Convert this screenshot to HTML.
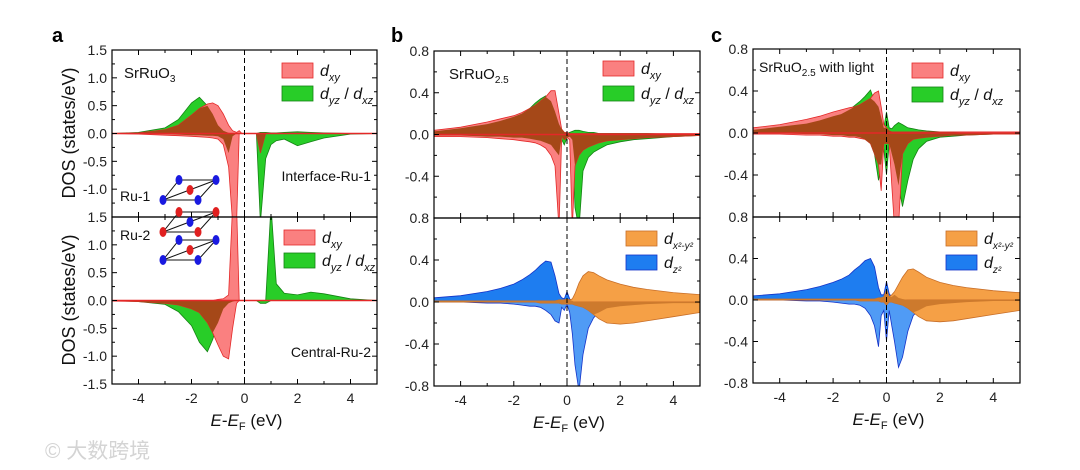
<!DOCTYPE html>
<html><head><meta charset="utf-8">
<style>
body{margin:0;background:#fff;}
svg{display:block;font-family:"Liberation Sans","Noto Sans CJK SC",sans-serif;}
</style></head>
<body>
<svg id="fig" width="1080" height="470" viewBox="0 0 1080 470">
  <text x="52" y="42" font-size="20" font-weight="bold">a</text>
  <text x="391" y="42" font-size="20" font-weight="bold">b</text>
  <text x="711" y="42" font-size="20" font-weight="bold">c</text>
  <text x="45" y="458" font-size="21" fill="#d4d4d4">© 大数跨境</text>
</svg>
<script>
const E = [-5,-4,-3,-2.5,-2,-1.7,-1.4,-1.2,-1,-0.8,-0.6,-0.45,-0.3,-0.2,-0.1,0,0.1,0.2,0.3,0.45,0.6,0.8,1,1.2,1.5,2,2.5,3,4,5];
// panel a upper (Interface-Ru-1)
const aUpXY=[0,0.01,0.07,0.15,0.33,0.45,0.53,0.55,0.5,0.35,0.15,0.05,0.02,0.05,0,0,0,0,0,0,0,0,0,0,0,0,0,0,0,0];
const aDnXY=[0,-0.01,-0.03,-0.04,-0.05,-0.06,-0.07,-0.08,-0.1,-0.2,-0.6,-1.6,-1.6,0,0,0,0,0,0,0,-0.35,0,0,0,0,0,0,0,0,0];
const aUpYZ=[0,0.02,0.1,0.25,0.55,0.65,0.5,0.35,0.15,0.05,0.01,0,0,0,0,0,0,0,0,0,0.02,0.02,0.01,0.01,0.02,0.03,0.02,0.01,0,0];
const aDnYZ=[0,0,-0.01,-0.02,-0.03,-0.03,-0.04,-0.04,-0.05,-0.1,-0.35,-0.05,0,0,0,0,0,0,0,0,-1.6,-0.45,-0.2,-0.13,-0.1,-0.22,-0.15,-0.08,-0.01,0];
// panel a lower (Central-Ru-2)
const a2UpXY=[0,0,0,0,0,0,0,0,0.02,0.03,0.1,1.7,1.7,0,0,0,0,0,0,0,0,0,0,0,0,0,0,0,0,0];
const a2DnXY=[-0.01,-0.02,-0.05,-0.08,-0.15,-0.22,-0.4,-0.58,-0.8,-1.0,-1.05,-0.5,-0.05,0,0,0,0,0,0,0,0,0,0,0,0,0,0,0,0,0];
const a2UpYZ=[0,0,0,0,0,0,0,0,0,0,0,0,0,0,0,0,0,0,0,0,0,0,1.7,0.3,0.13,0.1,0.15,0.12,0.03,0];
const a2DnYZ=[0,-0.02,-0.07,-0.2,-0.45,-0.75,-0.92,-0.7,-0.4,-0.15,-0.05,-0.02,0,0,0,0,0,0,0,0,-0.05,-0.05,0,0,0,0,0,0,0,0];
// panel b upper
const bUpXY=[0.04,0.07,0.12,0.15,0.18,0.21,0.25,0.28,0.32,0.36,0.42,0.42,0.2,0.05,0.02,0.02,0.01,0.01,0.01,0.01,0.01,0.01,0.01,0.01,0.01,0.01,0.01,0.01,0.01,0.01];
const bDnXY=[-0.02,-0.02,-0.03,-0.04,-0.05,-0.06,-0.07,-0.08,-0.1,-0.13,-0.2,-0.3,-0.9,-0.02,-0.05,-0.03,-0.05,-0.9,-0.3,-0.2,-0.15,-0.12,-0.1,-0.08,-0.06,-0.05,-0.04,-0.03,-0.02,-0.01];
const bUpYZ=[0.03,0.06,0.1,0.13,0.17,0.2,0.25,0.3,0.34,0.37,0.32,0.22,0.1,0.05,0.02,0.01,0.02,0.03,0.04,0.04,0.03,0.02,0.02,0.01,0.01,0.01,0.01,0.01,0,0];
const bDnYZ=[-0.01,-0.01,-0.02,-0.02,-0.03,-0.03,-0.04,-0.05,-0.06,-0.08,-0.1,-0.15,-0.2,-0.05,-0.1,-0.03,-0.02,-0.05,-0.7,-0.9,-0.35,-0.22,-0.17,-0.14,-0.1,-0.07,-0.05,-0.04,-0.02,-0.01];
// panel b lower
const bUpZ2=[0.04,0.06,0.1,0.13,0.17,0.21,0.26,0.3,0.35,0.39,0.38,0.25,0.08,0.04,0.03,0.1,0.03,0.01,0,0,0,0,0,0,0,0,0,0,0,0];
const bDnZ2=[0,0,-0.01,-0.01,-0.02,-0.03,-0.04,-0.04,-0.05,-0.08,-0.12,-0.18,-0.2,-0.05,-0.08,-0.02,-0.1,-0.3,-0.6,-0.85,-0.5,-0.25,-0.15,-0.1,-0.06,-0.04,-0.03,-0.02,-0.01,-0.01];
const bUpX2=[0.01,0.01,0.01,0.01,0.01,0.01,0.01,0.01,0.01,0.01,0.01,0.01,0.02,0.02,0.02,0.03,0.02,0.03,0.08,0.18,0.25,0.29,0.28,0.25,0.21,0.17,0.14,0.12,0.09,0.07];
const bDnX2=[0,0,0,0,0,0,0,0,-0.01,-0.01,-0.01,-0.01,-0.01,-0.02,-0.02,-0.02,-0.02,-0.02,-0.03,-0.04,-0.05,-0.08,-0.12,-0.16,-0.2,-0.21,-0.2,-0.18,-0.14,-0.1];
// panel c upper
const cUpXY=[0.05,0.08,0.13,0.16,0.2,0.22,0.24,0.25,0.27,0.3,0.33,0.38,0.4,0.25,0.08,0.05,0.02,0.01,0.01,0.01,0.01,0.01,0.01,0.01,0.01,0.01,0.01,0.01,0.01,0.01];
const cDnXY=[-0.01,-0.01,-0.02,-0.02,-0.03,-0.03,-0.04,-0.04,-0.05,-0.06,-0.1,-0.2,-0.3,-0.55,-0.1,-0.1,-0.1,-0.5,-0.9,-0.9,-0.2,-0.1,-0.06,-0.05,-0.04,-0.03,-0.02,-0.02,-0.01,-0.01];
const cUpYZ=[0.03,0.06,0.09,0.12,0.16,0.18,0.22,0.26,0.3,0.35,0.41,0.3,0.25,0.15,0.05,0.2,0.05,0.04,0.07,0.1,0.08,0.05,0.04,0.03,0.02,0.01,0.01,0,0,0];
const cDnYZ=[0,0,-0.01,-0.01,-0.02,-0.02,-0.03,-0.03,-0.04,-0.06,-0.1,-0.2,-0.45,-0.3,-0.15,-0.4,-0.1,-0.2,-0.3,-0.5,-0.7,-0.45,-0.25,-0.15,-0.08,-0.04,-0.03,-0.02,-0.01,-0.01];
// panel c lower
const cUpZ2=[0.04,0.06,0.1,0.13,0.17,0.2,0.24,0.29,0.33,0.38,0.4,0.32,0.12,0.05,0.05,0.18,0.06,0.03,0.05,0.02,0.01,0,0,0,0,0,0,0,0,0];
const cDnZ2=[0,0,-0.01,-0.01,-0.02,-0.03,-0.04,-0.04,-0.05,-0.08,-0.15,-0.25,-0.45,-0.15,-0.1,-0.4,-0.1,-0.25,-0.4,-0.65,-0.55,-0.3,-0.15,-0.1,-0.06,-0.04,-0.03,-0.02,-0.01,-0.01];
const cUpX2=[0.01,0.01,0.01,0.01,0.01,0.01,0.01,0.01,0.01,0.01,0.01,0.01,0.02,0.02,0.03,0.1,0.03,0.05,0.08,0.15,0.22,0.29,0.3,0.27,0.22,0.17,0.14,0.12,0.09,0.07];
const cDnX2=[0,0,0,0,0,0,0,0,-0.01,-0.01,-0.01,-0.01,-0.01,-0.02,-0.02,-0.05,-0.02,-0.02,-0.03,-0.04,-0.05,-0.08,-0.12,-0.16,-0.2,-0.21,-0.2,-0.18,-0.14,-0.1];
const xTicks=[-4,-2,0,2,4];
const aTicksUp=["1.5","1.0","0.5","0.0","-0.5","-1.0","1.5"];
const aTicksLo=["1.0","0.5","0.0","-0.5","-1.0","-1.5"];
const bTicksUp=["0.8","0.4","0.0","-0.4","0.8"];
const bTicksLo=["0.4","0.0","-0.4","-0.8"];

const NS="http://www.w3.org/2000/svg";
const svg=document.getElementById('fig');
function mk(tag,attrs,parent){const e=document.createElementNS(NS,tag);for(const k in attrs)e.setAttribute(k,attrs[k]);(parent||svg).appendChild(e);return e;}
const C={pink:"rgb(250,128,128)",pinkS:"rgb(228,40,40)",green:"rgb(40,205,40)",greenS:"rgb(20,130,20)",brown:"rgb(165,72,24)",
 blue:"rgb(30,125,240)",blueS:"rgb(20,50,200)",orange:"rgb(245,160,70)",orangeS:"rgb(200,110,40)",ov2:"rgb(205,122,45)"};
let clipId=0;
function overlap(a,b){return a.map((v,i)=>{const w=b[i];if(v>0&&w>0)return Math.min(v,w);if(v<0&&w<0)return Math.max(v,w);return 0;});}
function sub(o){
  const sx=e=>o.x0+(e+5)/10*(o.x1-o.x0);
  const sy=v=>o.yT+(o.vmax-v)/(2*o.vmax)*(o.yB-o.yT);
  const g=mk('g',{});
  
  
  const cid='cl'+(clipId++);
  const cp=mk('clipPath',{id:cid},g);mk('rect',{x:o.x0,y:o.yT,width:o.x1-o.x0,height:o.yB-o.yT},cp);
  const pg=mk('g',{'clip-path':'url(#'+cid+')'},g);
  function area(vals,fill,stroke,name){
    let d='M'+sx(E[0])+','+sy(0);
    E.forEach((e,i)=>{d+=' L'+sx(e).toFixed(1)+','+sy(vals[i]).toFixed(1);});
    d+=' L'+sx(E[E.length-1])+','+sy(0)+' Z';
    const p=mk('path',{d:d,fill:fill,stroke:stroke||'none','stroke-width':0.8},pg);
    
    
  }
  o.series.forEach(s=>area(s.v,s.fill,s.stroke,s.name));
  o.over.forEach(s=>area(overlap(s.a,s.b),s.fill,'none',s.name));
  if(o.zeroLine){const l=mk('line',{x1:o.x0,x2:o.x1,y1:sy(0),y2:sy(0),stroke:C.pinkS,'stroke-width':1.6},pg);
    
    }
  const fl=mk('line',{x1:sx(0),x2:sx(0),y1:o.yT,y2:o.yB,stroke:'#000','stroke-width':1,'stroke-dasharray':'5,3'},g);
  
  
  mk('rect',{x:o.x0,y:o.yT,width:o.x1-o.x0,height:o.yB-o.yT,fill:'none',stroke:'#000','stroke-width':1.2},g);
  for(let e=-5;e<=5;e++){const L=(e%2===0)?5:3;
    mk('line',{x1:sx(e),x2:sx(e),y1:o.yT,y2:o.yT+L,stroke:'#000'},g);
    mk('line',{x1:sx(e),x2:sx(e),y1:o.yB,y2:o.yB-L,stroke:'#000'},g);}
  o.tickVals.forEach((v,i)=>{
    mk('line',{x1:o.x0,x2:o.x0+5,y1:sy(v),y2:sy(v),stroke:'#000'},g);
    mk('line',{x1:o.x1,x2:o.x1-5,y1:sy(v),y2:sy(v),stroke:'#000'},g);
    const t=mk('text',{x:o.x0-5,y:sy(v)+5,'font-size':14,'text-anchor':'end',fill:'#222'},g);t.textContent=o.labels[i];
    
    
  });
  for(let k=0;k<o.minor.length;k++){const v=o.minor[k];
    mk('line',{x1:o.x0,x2:o.x0+3,y1:sy(v),y2:sy(v),stroke:'#000'},g);
    mk('line',{x1:o.x1,x2:o.x1-3,y1:sy(v),y2:sy(v),stroke:'#000'},g);}
  return {sx,sy};
}
function xAxis(x0,x1,yB,name){
  const sx=e=>x0+(e+5)/10*(x1-x0);
  xTicks.forEach(e=>{const t=mk('text',{x:sx(e),y:yB+19,'font-size':14,'text-anchor':'middle',fill:'#222'});t.textContent=String(e);
    
    });
  const t=mk('text',{x:sx(0)+2,y:yB+42,'font-size':17,'text-anchor':'middle',fill:'#111'});
  t.innerHTML='<tspan font-style="italic">E</tspan>-<tspan font-style="italic">E</tspan><tspan font-size="11" dy="4">F</tspan><tspan dy="-4"> (eV)</tspan>';
  
  
}
function legendEntry(x,y,fill,stroke,html,name){
  const g=mk('g',{});
  
  
  mk('rect',{x:x,y:y,width:31,height:15,fill:fill,stroke:stroke,'stroke-width':0.8},g);
  const t=mk('text',{x:x+38,y:y+13,'font-size':16,fill:'#111'},g);t.innerHTML=html;
}
function txt(x,y,html,size,name,anchor){const t=mk('text',{x:x,y:y,'font-size':size,fill:'#111','text-anchor':anchor||'start'});t.innerHTML=html;
  
  return t;}
const dxy='<tspan font-style="italic">d</tspan><tspan font-style="italic" font-size="11" dy="5">xy</tspan>';
const dyz='<tspan font-style="italic">d</tspan><tspan font-style="italic" font-size="11" dy="5">yz</tspan><tspan dy="-5"> / </tspan><tspan font-style="italic">d</tspan><tspan font-style="italic" font-size="11" dy="5">xz</tspan>';
const dx2='<tspan font-style="italic">d</tspan><tspan font-style="italic" font-size="10" dy="5">x²-y²</tspan>';
const dz2='<tspan font-style="italic">d</tspan><tspan font-style="italic" font-size="10" dy="5">z²</tspan>';
function upperSeries(up1,dn1,up2,dn2,p){return [
  {v:up2,fill:C.green,stroke:C.greenS,name:p+'-dyz-up'},{v:dn2,fill:C.green,stroke:C.greenS,name:p+'-dyz-down'},
  {v:up1,fill:C.pink,stroke:C.pinkS,name:p+'-dxy-up'},{v:dn1,fill:C.pink,stroke:C.pinkS,name:p+'-dxy-down'}];}
function upperOver(up1,dn1,up2,dn2,p){return [{a:up1,b:up2,fill:C.brown,name:p+'-overlap-up'},{a:dn1,b:dn2,fill:C.brown,name:p+'-overlap-down'}];}
function lowerSeries(uz,dz,ux,dx,p){return [
  {v:uz,fill:C.blue,stroke:C.blueS,name:p+'-dz2-up'},{v:dz,fill:"rgb(80,155,245)",stroke:C.blueS,name:p+'-dz2-down'},
  {v:ux,fill:C.orange,stroke:C.orangeS,name:p+'-dx2y2-up'},{v:dx,fill:C.orange,stroke:C.orangeS,name:p+'-dx2y2-down'}];}
function lowerOver(uz,dz,ux,dx,p){return [{a:uz,b:ux,fill:C.ov2,name:p+'-overlap-up'},{a:dz,b:dx,fill:C.ov2,name:p+'-overlap-down'}];}

sub({name:'panel-a-upper',x0:112,x1:377,yT:50,yB:217,vmax:1.5,series:upperSeries(aUpXY,aDnXY,aUpYZ,aDnYZ,'a1'),over:upperOver(aUpXY,aDnXY,aUpYZ,aDnYZ,'a1'),
  tickVals:[1.5,1,0.5,0,-0.5,-1,-1.5],labels:aTicksUp,minor:[1.25,0.75,0.25,-0.25,-0.75,-1.25],zeroLine:true});
sub({name:'panel-a-lower',x0:112,x1:377,yT:217,yB:384,vmax:1.5,series:upperSeries(a2UpXY,a2DnXY,a2UpYZ,a2DnYZ,'a2'),over:upperOver(a2UpXY,a2DnXY,a2UpYZ,a2DnYZ,'a2'),
  tickVals:[1,0.5,0,-0.5,-1,-1.5],labels:aTicksLo,minor:[1.25,0.75,0.25,-0.25,-0.75,-1.25],zeroLine:true});
xAxis(112,377,384,'panel-a-x-axis-title');
sub({name:'panel-b-upper',x0:434,x1:700,yT:51,yB:218,vmax:0.8,series:upperSeries(bUpXY,bDnXY,bUpYZ,bDnYZ,'b1'),over:upperOver(bUpXY,bDnXY,bUpYZ,bDnYZ,'b1'),
  tickVals:[0.8,0.4,0,-0.4,-0.8],labels:bTicksUp,minor:[0.6,0.2,-0.2,-0.6],zeroLine:true});
sub({name:'panel-b-lower',x0:434,x1:700,yT:218,yB:386,vmax:0.8,series:lowerSeries(bUpZ2,bDnZ2,bUpX2,bDnX2,'b2'),over:lowerOver(bUpZ2,bDnZ2,bUpX2,bDnX2,'b2'),
  tickVals:[0.4,0,-0.4,-0.8],labels:bTicksLo,minor:[0.6,0.2,-0.2,-0.6],zeroLine:false});
xAxis(434,700,386,'panel-b-x-axis-title');
sub({name:'panel-c-upper',x0:753,x1:1020,yT:49,yB:217,vmax:0.8,series:upperSeries(cUpXY,cDnXY,cUpYZ,cDnYZ,'c1'),over:upperOver(cUpXY,cDnXY,cUpYZ,cDnYZ,'c1'),
  tickVals:[0.8,0.4,0,-0.4,-0.8],labels:bTicksUp,minor:[0.6,0.2,-0.2,-0.6],zeroLine:true});
sub({name:'panel-c-lower',x0:753,x1:1020,yT:217,yB:383,vmax:0.8,series:lowerSeries(cUpZ2,cDnZ2,cUpX2,cDnX2,'c2'),over:lowerOver(cUpZ2,cDnZ2,cUpX2,cDnX2,'c2'),
  tickVals:[0.4,0,-0.4,-0.8],labels:bTicksLo,minor:[0.6,0.2,-0.2,-0.6],zeroLine:false});
xAxis(753,1020,383,'panel-c-x-axis-title');

[[133,'y-axis-title-upper'],[300,'y-axis-title-lower']].forEach(([cy,n])=>{
  const t=mk('text',{x:0,y:0,'font-size':18,'text-anchor':'middle',fill:'#111',transform:'translate(75,'+cy+') rotate(-90)'});
  t.textContent='DOS (states/eV)';
  
  
});

legendEntry(282,63,C.pink,C.pinkS,dxy,'legend-a1-dxy');
legendEntry(282,86,C.green,C.greenS,dyz,'legend-a1-dyz');
legendEntry(284,230,C.pink,C.pinkS,dxy,'legend-a2-dxy');
legendEntry(284,253,C.green,C.greenS,dyz,'legend-a2-dyz');
legendEntry(603,61,C.pink,C.pinkS,dxy,'legend-b1-dxy');
legendEntry(603,86,C.green,C.greenS,dyz,'legend-b1-dyz');
legendEntry(626,231,C.orange,C.orangeS,dx2,'legend-b2-dx2y2');
legendEntry(626,255,C.blue,C.blueS,dz2,'legend-b2-dz2');
legendEntry(912,63,C.pink,C.pinkS,dxy,'legend-c1-dxy');
legendEntry(912,87,C.green,C.greenS,dyz,'legend-c1-dyz');
legendEntry(946,231,C.orange,C.orangeS,dx2,'legend-c2-dx2y2');
legendEntry(946,255,C.blue,C.blueS,dz2,'legend-c2-dz2');

txt(124,78,'SrRuO<tspan font-size="10" dy="4">3</tspan>',15,'label-srruo3');
txt(371,181,'Interface-Ru-1',14,'label-interface-ru1','end');
txt(371,357,'Central-Ru-2',14,'label-central-ru2','end');
txt(120,201,'Ru-1',14,'label-ru1');
txt(120,240,'Ru-2',14,'label-ru2');
txt(449,79,'SrRuO<tspan font-size="10" dy="4">2.5</tspan>',15,'label-srruo25');
txt(759,72,'SrRuO<tspan font-size="10" dy="4">2.5</tspan><tspan dy="-4"> with light</tspan>',14,'label-srruo25-light');

const cs=mk('g',{});


function layer(y,cEdge,cMid){
  const A=[163,y+20],B=[198,y+20],Cp=[216,y],D=[179,y];
  mk('polygon',{points:[A,B,Cp,D].map(p=>p.join(',')).join(' '),fill:'none',stroke:'#111','stroke-width':1},cs);
  mk('line',{x1:A[0],y1:A[1],x2:Cp[0],y2:Cp[1],stroke:'#111'},cs);
  [A,B,Cp,D].forEach(p=>mk('ellipse',{cx:p[0],cy:p[1],rx:3.5,ry:5,fill:cEdge},cs));
  mk('ellipse',{cx:190,cy:y+10,rx:3.5,ry:5,fill:cMid},cs);
}
layer(180,'#1a1ae0','#e02020');
layer(212,'#e02020','#1a1ae0');
layer(240,'#1a1ae0','#e02020');
</script>
</body></html>
